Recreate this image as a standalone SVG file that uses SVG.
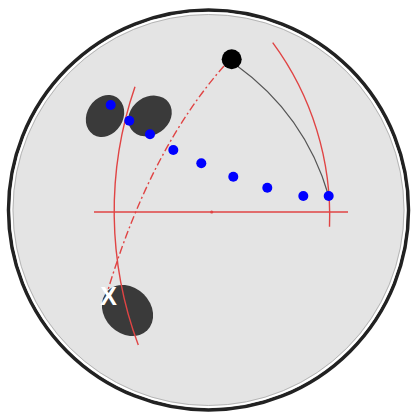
<svg xmlns="http://www.w3.org/2000/svg" width="413" height="414" viewBox="0 0 413 414">
<style>
.red{fill:none;stroke:#e04444;stroke-width:1.4}
.blob{fill:#3a3a3a}
.dot{fill:#0000ff}
</style>
<rect width="413" height="414" fill="#ffffff"/>
<g id="dish">
<circle cx="208.5" cy="210" r="200" fill="#e4e4e4" stroke="#222" stroke-width="3.5"/>
<circle cx="208.5" cy="210" r="197" fill="none" stroke="#ffffff" stroke-width="2"/>
<circle cx="208.5" cy="210" r="195.5" fill="none" stroke="#a8a8a8" stroke-width="0.8"/>
</g>
<g id="blobs">
<ellipse id="blob1" class="blob" cx="105" cy="116" rx="18" ry="22" transform="rotate(32 105 116)"/>
<ellipse id="blob2" class="blob" cx="150" cy="116" rx="23" ry="19" transform="rotate(-35 150 116)"/>
<ellipse id="blob3" class="blob" cx="127.5" cy="310.5" rx="28" ry="23" transform="rotate(45 127.5 310.5)"/>
</g>
<g id="connectors">
<line class="red" x1="94" y1="212" x2="348" y2="212"/>
<circle cx="211.7" cy="212" r="1.6" fill="#e04444"/>
<path class="red" d="M272.7,42.7 A291.8,291.8 0 0 1 329.5,226.7"/>
<path class="red" d="M135,86.7 A383,383 0 0 0 138.3,345"/>
<path class="red" stroke-width="2" stroke-dasharray="8 3 2 3" d="M224,66 Q150,150 108,290"/>
<path fill="none" stroke="#555" stroke-width="1.2" d="M236,65 Q305,114.5 328.7,196"/>
</g>
<g id="source"><circle cx="231.7" cy="59.3" r="10" fill="#000"/></g>
<g id="dots">
<circle class="dot" cx="110.7" cy="105" r="5"/>
<circle class="dot" cx="129.3" cy="120.7" r="5"/>
<circle class="dot" cx="150" cy="134.3" r="5"/>
<circle class="dot" cx="173.3" cy="150" r="5"/>
<circle class="dot" cx="201.3" cy="163.3" r="5"/>
<circle class="dot" cx="233.3" cy="176.7" r="5"/>
<circle class="dot" cx="267.3" cy="187.7" r="5"/>
<circle class="dot" cx="303.3" cy="196" r="5"/>
<circle class="dot" cx="328.7" cy="196" r="5"/>
</g>
<g id="mark"><text x="108.5" y="305" font-family="Liberation Sans, Arial, sans-serif" font-weight="bold" font-size="25" fill="#ffffff" text-anchor="middle">X</text></g>
</svg>
